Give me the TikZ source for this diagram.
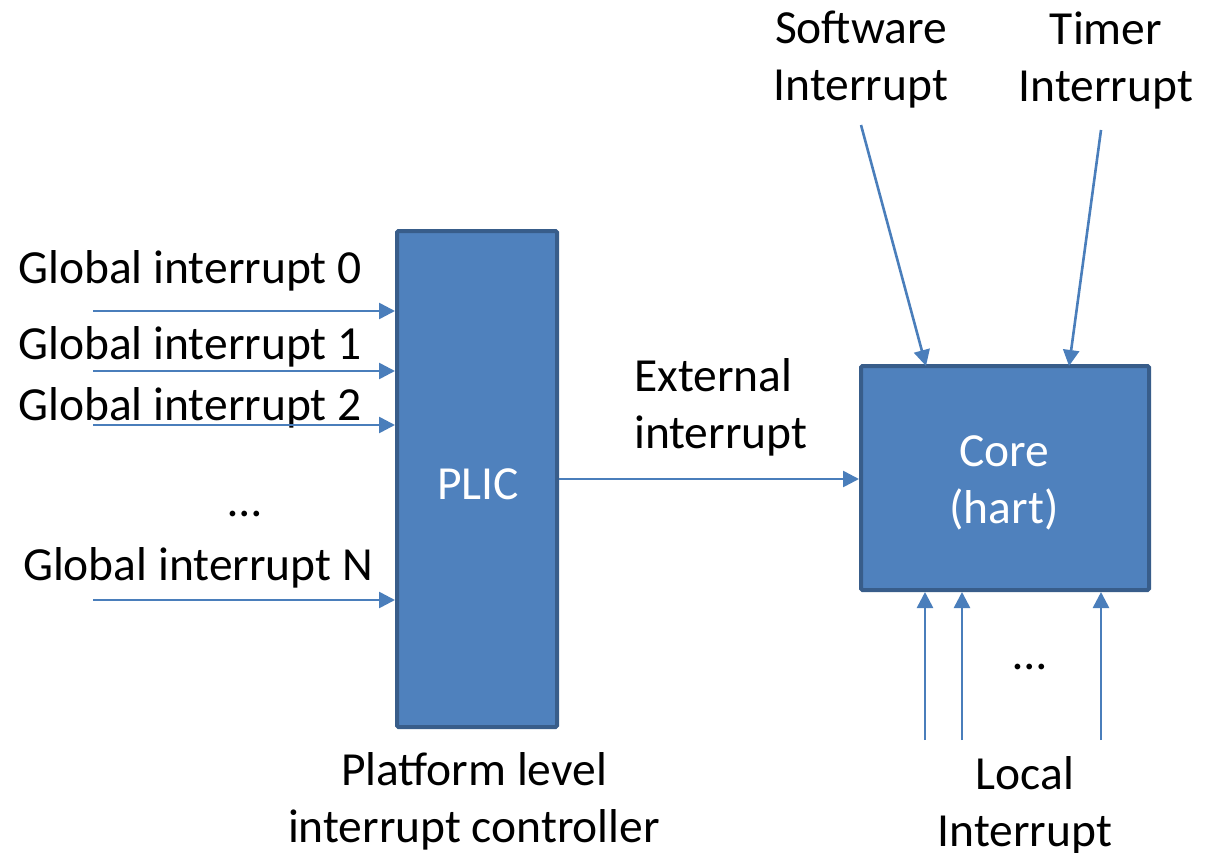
\documentclass[tikz,border=0pt]{standalone}
\usepackage{fontspec}
\setmainfont{Carlito}
\usetikzlibrary{arrows.meta}
\definecolor{boxfill}{HTML}{4F81BD}
\definecolor{boxline}{HTML}{385D8A}
\definecolor{arrowcol}{HTML}{4A7EBB}
\begin{document}
\begin{tikzpicture}[x=1pt,y=-1pt,
  block/.style={draw=boxline,fill=boxfill,line width=4pt,rounded corners=1.5pt,inner sep=0pt},
  lbl/.style={font=\fontsize{47.5}{57}\selectfont,align=center,inner sep=0pt},
  wlbl/.style={lbl,text=white},
  sig/.style={draw=arrowcol,line width=2.6pt,-{Triangle[length=16pt,width=16pt]}}]
\useasboundingbox (0,0) rectangle (1212,853);
% blocks
\node[block,minimum width=160pt,minimum height=496pt] (plic) at (477,479) {};
\node[block,minimum width=288pt,minimum height=224pt] (core) at (1005,478) {};
\node[wlbl] (pliclbl) at (478,484) {PLIC};
\node[wlbl] (corelbl) at (1004,483) {Core\\(hart)};
% global interrupts
\node[lbl] (g0l) at (190,271) {Global interrupt 0};
\node[lbl] (g1l) at (190,347) {Global interrupt 1};
\node[lbl] (g2l) at (190,408) {Global interrupt 2};
\node[lbl] (gdl) at (245,514) {\dots};
\node[lbl] (gnl) at (198,568) {Global interrupt N};
\coordinate (g0) at (93,311);
\coordinate (g1) at (93,371);
\coordinate (g2) at (93,425);
\coordinate (gn) at (93,600);
\draw[sig] (g0) -- (g0 -| plic.west);
\draw[sig] (g1) -- (g1 -| plic.west);
\draw[sig] (g2) -- (g2 -| plic.west);
\draw[sig] (gn) -- (gn -| plic.west);
\node[lbl] (plat) at (474,801) {Platform level\\interrupt controller};
% external
\node[lbl,align=left,anchor=west] (extl) at (634,407) {External\\interrupt};
\coordinate (ex) at (557,479);
\draw[sig] (ex -| plic.east) -- (ex -| core.west);
% software / timer
\node[lbl] (swl) at (861,60) {Software\\Interrupt};
\node[lbl] (tml) at (1106,60) {Timer\\Interrupt};
\coordinate (sw) at (861,125);
\coordinate (tm) at (1101,130);
\draw[sig] (sw) -- (926,366);
\draw[sig] (tm) -- (1069,366);
% local
\coordinate (l1) at (925,740);
\coordinate (l2) at (962,740);
\coordinate (l3) at (1101,740);
\draw[sig] (l1) -- (l1 |- core.south);
\draw[sig] (l2) -- (l2 |- core.south);
\draw[sig] (l3) -- (l3 |- core.south);
\node[lbl] (ldots) at (1030,667) {\dots};
\node[lbl] (loc) at (1025,805) {Local\\Interrupt};
\end{tikzpicture}
\end{document}
